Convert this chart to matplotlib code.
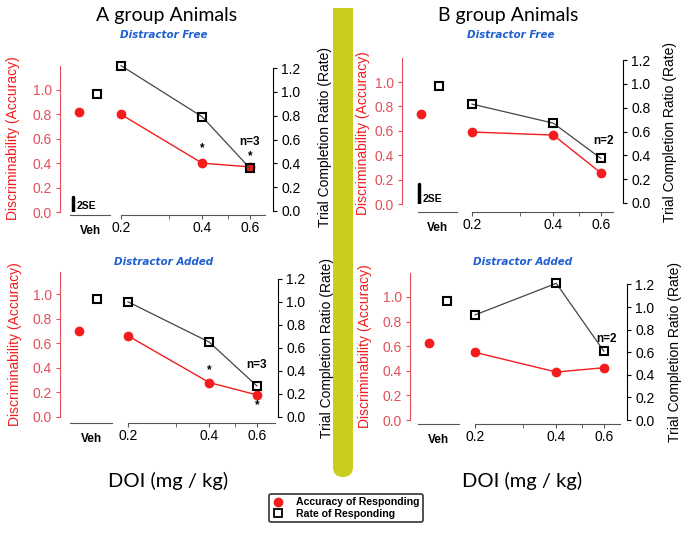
import numpy as np
import matplotlib
matplotlib.use('Agg')
import matplotlib.pyplot as plt
from matplotlib.patches import Rectangle, FancyBboxPatch
from matplotlib.lines import Line2D
from matplotlib.ticker import FixedLocator, NullFormatter

plt.rcParams['font.family'] = ['Liberation Sans', 'DejaVu Sans']

# DOI doses (mg/kg) and readings from the figure
doses = [0.2, 0.4, 0.6]
minor_doses = [0.3, 0.5]
left_ticks = [0.0, 0.2, 0.4, 0.6, 0.8, 1.0]
right_ticks = [0.0, 0.2, 0.4, 0.6, 0.8, 1.0, 1.2]

acc_A_free_veh = 0.82
acc_A_free = [0.80, 0.40, 0.37]
rate_A_free_veh = 0.98
rate_A_free = [1.22, 0.79, 0.36]

acc_B_free_veh = 0.74
acc_B_free = [0.59, 0.565, 0.255]
rate_B_free_veh = 0.98
rate_B_free = [0.83, 0.67, 0.375]

acc_A_add_veh = 0.70
acc_A_add = [0.66, 0.28, 0.18]
rate_A_add_veh = 1.03
rate_A_add = [1.00, 0.65, 0.27]

acc_B_add_veh = 0.63
acc_B_add = [0.55, 0.39, 0.425]
rate_B_add_veh = 1.065
rate_B_add = [0.93, 1.21, 0.61]

W, H = 689, 533
fig = plt.figure(figsize=(W / 100, H / 100), dpi=100)

RED = '#f41c1c'
RED_AX = '#e0505a'
PT = 0.72  # points per pixel at 100 dpi


def box(x0, y_top, x1, y_bot):
    return [x0 / W, 1 - y_bot / H, (x1 - x0) / W, (y_bot - y_top) / H]


# background overlay for the yellow divider
bg = fig.add_axes([0, 0, 1, 1], zorder=-5)
bg.set_xlim(0, W)
bg.set_ylim(H, 0)
bg.axis('off')
bg.add_patch(Rectangle((333, 8), 20, 440, color='#cacd1c', lw=0))
bg.add_patch(FancyBboxPatch((333, 430), 20, 47, boxstyle='round,pad=0,rounding_size=10',
                            color='#cacd1c', lw=0))


def panel(p, acc_veh, acc, rate_veh, rate):
    ytop, yl0, yl1 = p['ytop'], p['yl0'], p['yl1']
    lhi = (yl0 - ytop) / (yl0 - yl1)
    yr0, yr12 = p['yr0'], p['yr12']
    rlo = 1.2 * (yr0 - yl0) / (yr0 - yr12)
    rhi = 1.2 * (yr0 - ytop) / (yr0 - yr12)
    xl, x02, xend = p['xl'], p['x02'], p['xend']

    # vehicle part with the red (left) axis
    axv = fig.add_axes(box(xl, ytop, x02 - 6, yl0))
    axv.patch.set_visible(False)
    vlo = -19 / 18
    vhi = vlo + (x02 - 6 - xl) / 18
    axv.set_xlim(vlo, vhi)
    axv.set_ylim(0, lhi)
    for s in ['top', 'right']:
        axv.spines[s].set_visible(False)
    axv.spines['left'].set_color(RED_AX)
    axv.spines['bottom'].set_position(('outward', (p['ybase'] - yl0) * PT))
    b0 = vlo + (p['vx0'] - xl) / 18
    b1 = vlo + (p['vx1'] - xl) / 18
    axv.spines['bottom'].set_bounds(b0, b1)
    axv.spines['bottom'].set_color('#555555')
    axv.set_xticks([(b0 + b1) / 2])
    axv.set_xticklabels(['Veh'], fontweight='bold', fontsize=8.5)
    axv.tick_params(axis='x', length=0, pad=7)
    axv.set_yticks(left_ticks)
    axv.set_yticklabels(['%.1f' % v for v in left_ticks])
    axv.tick_params(axis='y', colors=RED_AX, labelcolor=RED_AX, labelsize=10,
                    direction='out', length=3, pad=3)
    axv.plot([0], [acc_veh], 'o', color=RED, ms=6, clip_on=False, zorder=3)
    # 2SE bar
    if p.get('se') is not None:
        sx = vlo + (p['se'][0] - xl) / 18
        axv.plot([sx, sx], p['se'][1:], color='k', lw=2.5, solid_capstyle='round')
        axv.text(sx + 0.2, p['se'][1], '2SE', fontsize=7.5, fontweight='bold',
                 ha='left', va='bottom')

    axv2 = axv.twinx()
    axv2.set_ylim(rlo, rhi)
    for s in axv2.spines.values():
        s.set_visible(False)
    axv2.set_yticks([])
    axv2.plot([1], [rate_veh], 's', mfc='none', mec='k', mew=1.5, ms=5.8, clip_on=False)

    # dose part on a log axis
    axm = fig.add_axes(box(x02, ytop, xend, yl0))
    axm.patch.set_visible(False)
    axm.set_xscale('log')
    axm.set_xlim(0.2, 0.2 * 10 ** ((xend - x02) / 270.0))
    axm.set_ylim(0, lhi)
    for s in ['top', 'right', 'left']:
        axm.spines[s].set_visible(False)
    axm.spines['bottom'].set_position(('outward', (p['ybase'] - yl0) * PT))
    axm.spines['bottom'].set_color('#555555')
    axm.xaxis.set_major_locator(FixedLocator(doses))
    axm.xaxis.set_minor_locator(FixedLocator(minor_doses))
    axm.xaxis.set_minor_formatter(NullFormatter())
    axm.set_xticklabels(['%.1f' % d for d in doses])
    axm.tick_params(axis='x', which='both', direction='out', length=3, labelsize=10,
                    pad=1.5, color='#555555')
    axm.set_yticks([])
    axm.plot(doses, acc, '-', color=RED, lw=1, marker='o', ms=6, clip_on=False, zorder=3)
    for (xt, yt, s) in p['notes']:
        axm.text(xt, yt, s, ha='center', va='center', fontsize=8.5, fontweight='bold')

    axr = axm.twinx()
    axr.set_ylim(rlo, rhi)
    for s in ['top', 'left', 'bottom']:
        axr.spines[s].set_visible(False)
    axr.spines['right'].set_position(('outward', (p['xr'] - xend) * PT))
    axr.spines['right'].set_bounds(0, 1.2)
    axr.set_yticks(right_ticks)
    axr.set_yticklabels(['%.1f' % v for v in right_ticks])
    axr.tick_params(axis='y', labelsize=10, direction='out', length=3, pad=3)
    axr.plot(doses, rate, '-', color='#444444', lw=0.9, marker='s', mfc='none',
             mec='k', mew=1.5, ms=5.8, clip_on=False)

    fig.text(p['lab_l'][0] / W, 1 - p['lab_l'][1] / H, 'Discriminability (Accuracy)',
             rotation=90, color=RED, fontsize=10, ha='center', va='center')
    fig.text(p['lab_r'][0] / W, 1 - p['lab_r'][1] / H, 'Trial Completion Ratio (Rate)',
             rotation=90, color='k', fontsize=10, ha='center', va='center')
    fig.text(p['sub'][0] / W, 1 - p['sub'][1] / H, p['sub'][2], color='#1f5fd0',
             fontsize=7.5, fontweight='bold', fontstyle='italic', family='DejaVu Sans',
             ha='center', va='center')


panel(dict(xl=60, x02=121, xend=265, xr=273, ytop=66, yl0=212, yl1=90, yr0=211, yr12=68,
           ybase=215, vx0=70, vx1=110, se=(73, 0.01, 0.12),
           notes=[(0.4, 0.52, '*'), (0.6, 0.57, 'n=3'), (0.6, 0.46, '*')],
           lab_l=(13, 138), lab_r=(325, 137), sub=(164, 35, 'Distractor Free')),
      acc_A_free_veh, acc_A_free, rate_A_free_veh, rate_A_free)

panel(dict(xl=402, x02=472, xend=613, xr=623, ytop=58, yl0=204, yl1=82, yr0=203, yr12=60,
           ybase=212, vx0=418, vx1=457, se=(419, 0.0, 0.165),
           notes=[(0.615, 0.52, 'n=2')],
           lab_l=(363, 133), lab_r=(670, 132), sub=(511, 35, 'Distractor Free')),
      acc_B_free_veh, acc_B_free, rate_B_free_veh, rate_B_free)

panel(dict(xl=60, x02=128, xend=275, xr=278, ytop=272, yl0=417, yl1=294, yr0=422, yr12=279,
           ybase=423, vx0=70, vx1=112,
           notes=[(0.4, 0.38, '*'), (0.6, 0.42, 'n=3'), (0.6, 0.10, '*')],
           lab_l=(15, 344), lab_r=(327, 348), sub=(164, 262, 'Distractor Added')),
      acc_A_add_veh, acc_A_add, rate_A_add_veh, rate_A_add)

panel(dict(xl=410, x02=475, xend=620, xr=627, ytop=273, yl0=420, yl1=297, yr0=427, yr12=285,
           ybase=424, vx0=418, vx1=459,
           notes=[(0.615, 0.66, 'n=2')],
           lab_l=(365, 346), lab_r=(675, 352), sub=(523, 262, 'Distractor Added')),
      acc_B_add_veh, acc_B_add, rate_B_add_veh, rate_B_add)

fig.text(167 / W, 1 - 16 / H, 'A group Animals', family='Lato', fontsize=14,
         ha='center', va='center')
fig.text(508 / W, 1 - 16 / H, 'B group Animals', family='Lato', fontsize=14,
         ha='center', va='center')
fig.text(168 / W, 1 - 481 / H, 'DOI (mg / kg)', family='Lato', fontsize=14.5,
         ha='center', va='center')
fig.text(522 / W, 1 - 481 / H, 'DOI (mg / kg)', family='Lato', fontsize=14.5,
         ha='center', va='center')

handles = [Line2D([], [], marker='o', color=RED, ls='none', ms=6),
           Line2D([], [], marker='s', mfc='none', mec='k', mew=1.3, ls='none', ms=5.5)]
leg = fig.legend(handles, ['Accuracy of Responding', 'Rate of Responding'],
                 loc='center', bbox_to_anchor=(346 / W, 1 - 508 / H),
                 prop=dict(weight='bold', size=7.6), frameon=True, fancybox=True,
                 handlelength=1, handletextpad=1.2, labelspacing=0.1, borderpad=0.35)
leg.get_frame().set_edgecolor('k')
leg.get_frame().set_linewidth(1.2)

fig.savefig('out.png', dpi=100)
